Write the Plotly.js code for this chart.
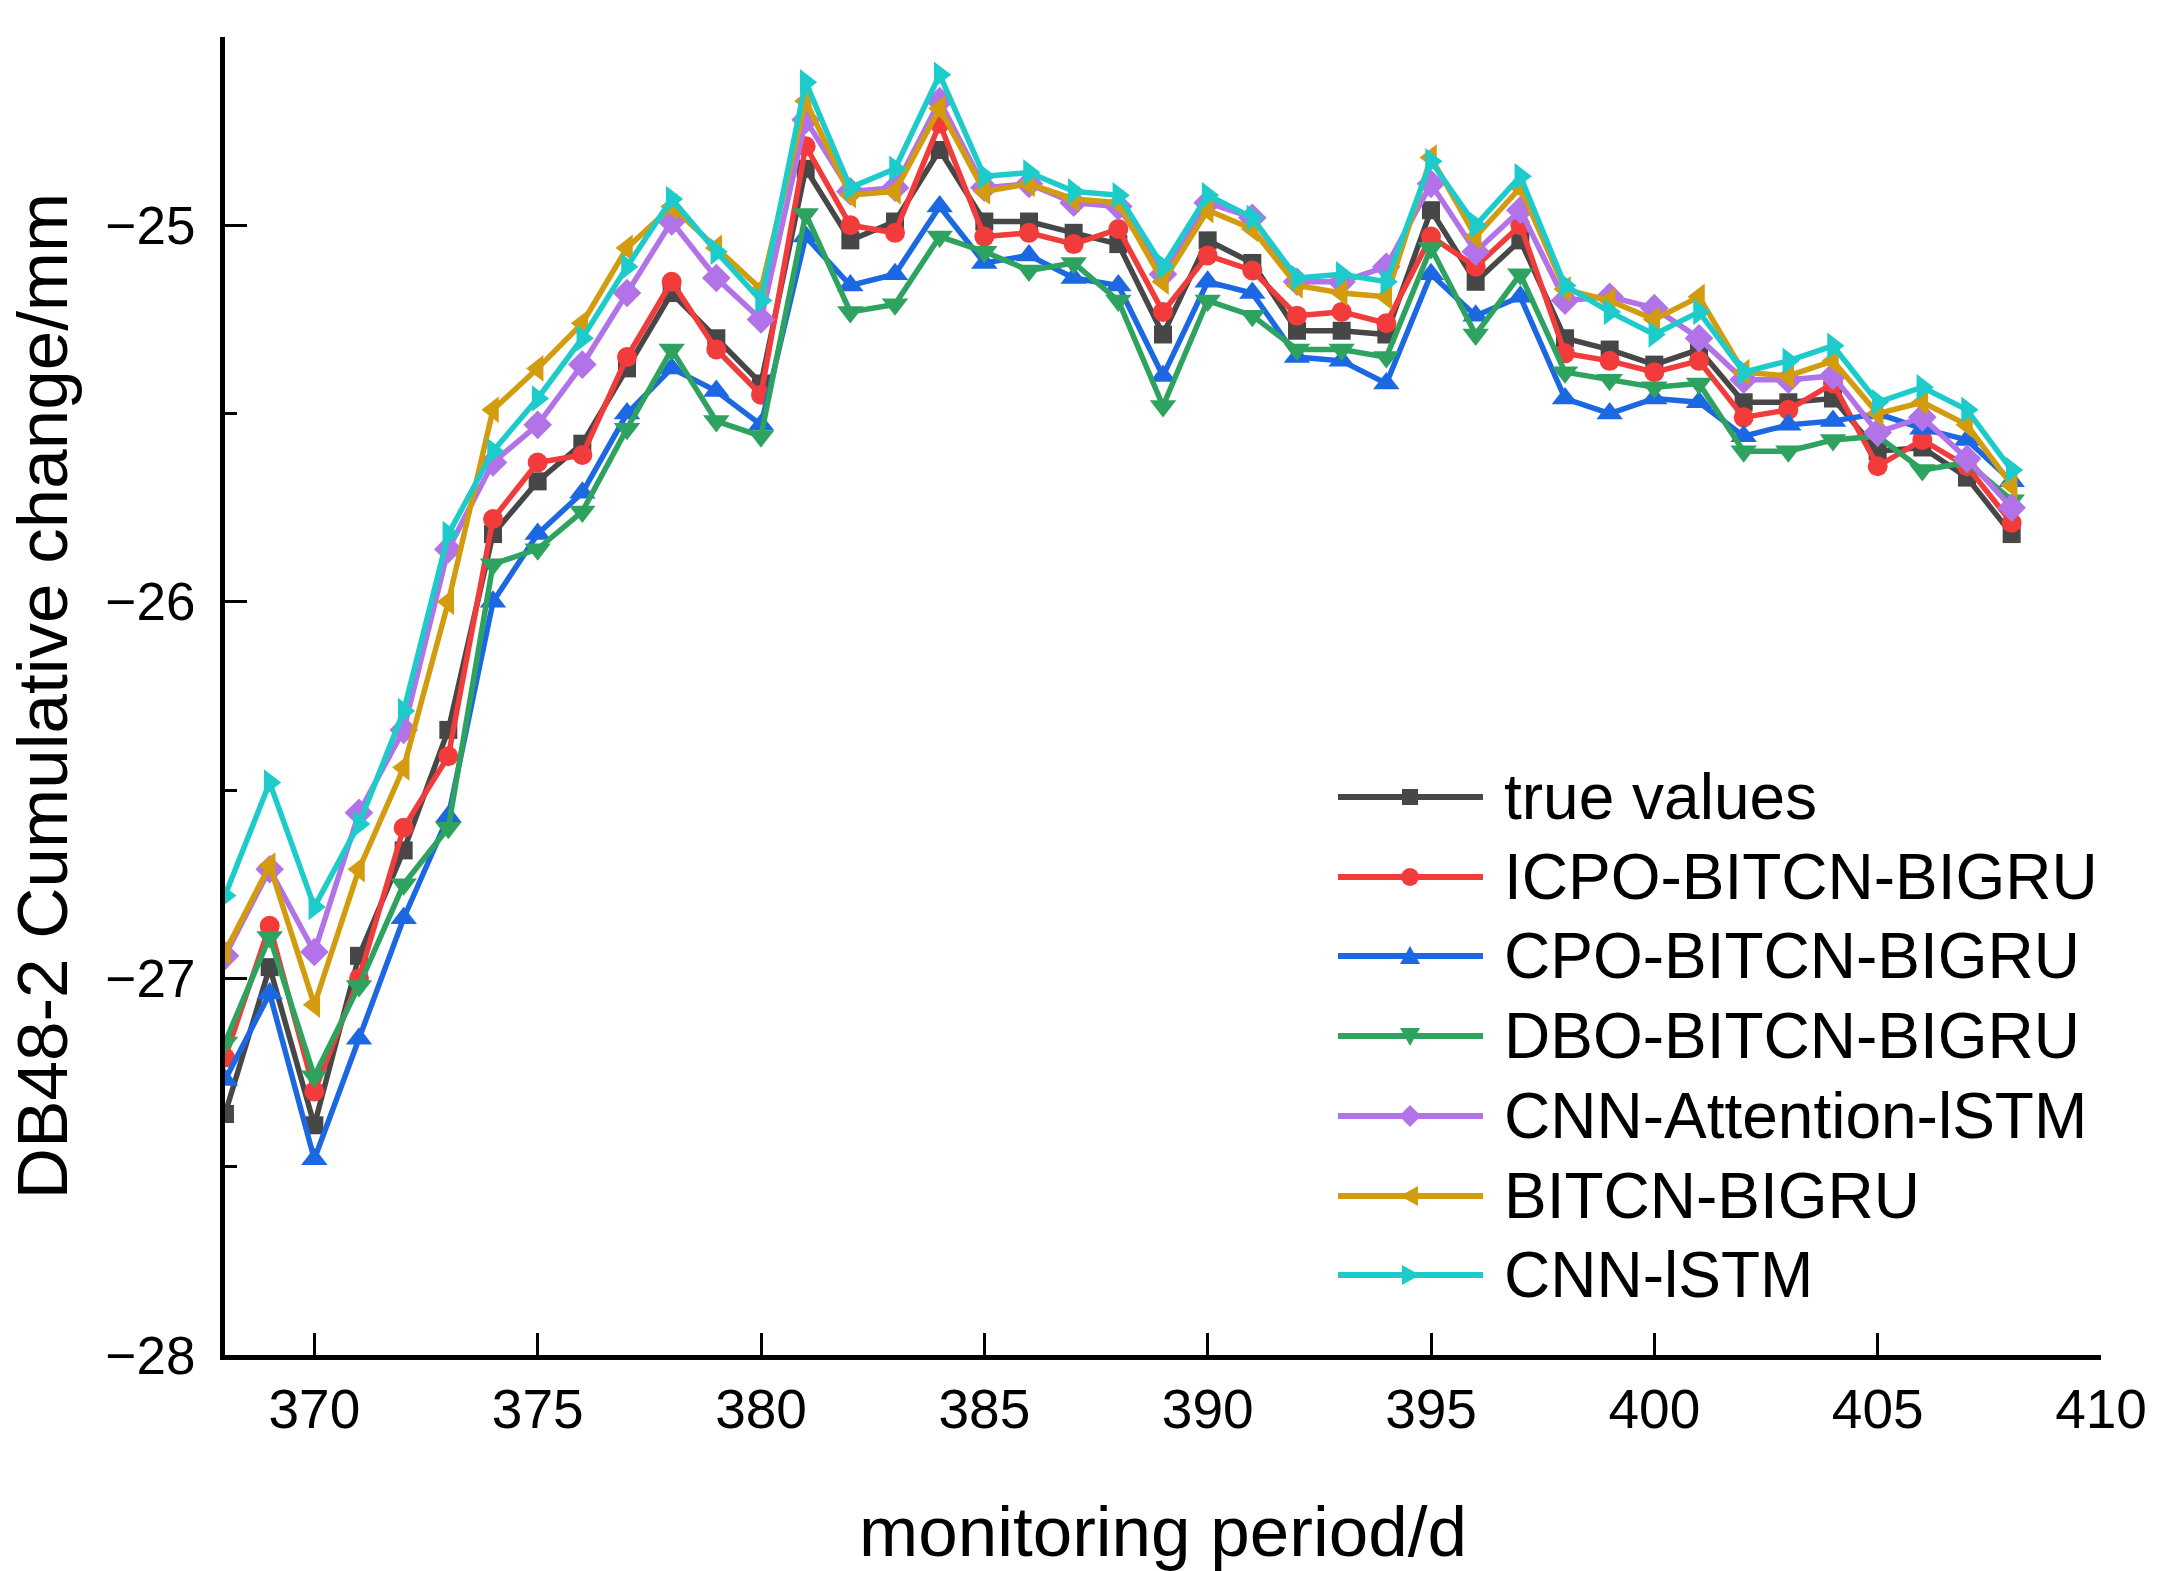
<!DOCTYPE html>
<html>
<head>
<meta charset="utf-8">
<script src="https://cdn.plot.ly/plotly-3.0.1.min.js"></script>
<style>html,body{margin:0;padding:0;background:#fff;}#chart{width:2159px;height:1571px;}</style>
</head>
<body>
<div id="chart"></div>
<script>
const days = [368,369,370,371,372,373,374,375,376,377,378,379,380,381,382,383,384,385,386,387,388,389,390,391,392,393,394,395,396,397,398,399,400,401,402,403,404,405,406,407,408];

const trueValues = [-27.36,-26.97,-27.39,-26.94,-26.66,-26.34,-25.82,-25.68,-25.58,-25.38,-25.18,-25.30,-25.42,-24.85,-25.04,-24.99,-24.80,-24.99,-24.99,-25.02,-25.05,-25.29,-25.04,-25.10,-25.28,-25.28,-25.29,-24.96,-25.15,-25.04,-25.30,-25.33,-25.37,-25.33,-25.47,-25.47,-25.46,-25.60,-25.59,-25.67,-25.82];
const icpo = [-27.21,-26.86,-27.30,-27.00,-26.60,-26.41,-25.78,-25.63,-25.61,-25.35,-25.15,-25.33,-25.45,-24.79,-25.00,-25.02,-24.73,-25.03,-25.02,-25.05,-25.01,-25.23,-25.08,-25.12,-25.24,-25.23,-25.26,-25.03,-25.11,-25.00,-25.34,-25.36,-25.39,-25.36,-25.51,-25.49,-25.42,-25.64,-25.57,-25.64,-25.79];
const cpo = [-27.27,-27.04,-27.48,-27.16,-26.84,-26.57,-26.00,-25.82,-25.71,-25.50,-25.38,-25.44,-25.53,-25.03,-25.16,-25.13,-24.95,-25.10,-25.08,-25.14,-25.16,-25.40,-25.15,-25.18,-25.35,-25.36,-25.42,-25.13,-25.24,-25.19,-25.46,-25.50,-25.46,-25.47,-25.56,-25.53,-25.52,-25.50,-25.54,-25.57,-25.68];
const dbo = [-27.17,-26.89,-27.26,-27.02,-26.75,-26.60,-25.90,-25.86,-25.76,-25.54,-25.33,-25.52,-25.56,-24.97,-25.23,-25.21,-25.03,-25.07,-25.12,-25.10,-25.20,-25.48,-25.20,-25.24,-25.33,-25.33,-25.35,-25.06,-25.29,-25.13,-25.39,-25.41,-25.43,-25.42,-25.60,-25.60,-25.57,-25.56,-25.65,-25.63,-25.73];
const cnnAtt = [-26.94,-26.71,-26.93,-26.56,-26.34,-25.86,-25.63,-25.53,-25.37,-25.18,-24.99,-25.14,-25.25,-24.72,-24.91,-24.90,-24.67,-24.90,-24.89,-24.94,-24.95,-25.13,-24.94,-24.98,-25.15,-25.15,-25.11,-24.89,-25.07,-24.96,-25.20,-25.19,-25.22,-25.30,-25.41,-25.41,-25.40,-25.55,-25.51,-25.62,-25.75];
const bitcn = [-26.93,-26.70,-27.07,-26.71,-26.44,-26.00,-25.49,-25.38,-25.26,-25.06,-24.95,-25.06,-25.17,-24.67,-24.92,-24.91,-24.69,-24.91,-24.89,-24.93,-24.94,-25.15,-24.96,-25.01,-25.16,-25.18,-25.19,-24.82,-25.03,-24.90,-25.17,-25.20,-25.25,-25.19,-25.39,-25.40,-25.36,-25.50,-25.47,-25.53,-25.69];
const cnnLstm = [-26.78,-26.48,-26.81,-26.59,-26.29,-25.82,-25.60,-25.46,-25.30,-25.11,-24.93,-25.07,-25.20,-24.62,-24.90,-24.85,-24.60,-24.87,-24.86,-24.91,-24.92,-25.11,-24.92,-24.98,-25.14,-25.13,-25.15,-24.83,-25.00,-24.87,-25.16,-25.23,-25.29,-25.23,-25.39,-25.36,-25.32,-25.47,-25.43,-25.49,-25.65];

const names = ['true values','ICPO-BITCN-BIGRU','CPO-BITCN-BIGRU','DBO-BITCN-BIGRU','CNN-Attention-lSTM','BITCN-BIGRU','CNN-lSTM'];
const seriesList = [trueValues, icpo, cpo, dbo, cnnAtt, bitcn, cnnLstm];
const colors = ['#474747','#f23b3b','#1c68e2','#2ea35f','#b272e8','#d29c0e','#1ecbcb'];
const symbols = ['square','circle','triangle-up','triangle-down','diamond','triangle-left','triangle-right'];
const sizes = [18,20,23,23,22,23,23];

const FONT = 'Liberation Sans, Arial, sans-serif';

const traces = seriesList.map((ys, i) => ({
  x: days, y: ys, type: 'scatter', mode: 'lines+markers', name: names[i],
  line: {color: colors[i], width: 5.5},
  marker: {symbol: symbols[i], size: sizes[i], color: colors[i], line: {width: 0}},
  showlegend: false
}));

// plot area in pixels
const W = 2159, H = 1571;
const L = 225, R = 2101, T = 37, B = 1355;
const px2x = X => (X - L) / (R - L);
const px2y = Y => (B - Y) / (B - T);

// manual legend
const legRows = [797, 877, 956, 1036, 1116, 1196, 1275];
const legPaths = {
  'square': 'M-8,-8L8,-8L8,8L-8,8Z',
  'triangle-up': 'M-10,-8L10,-8L0,10Z',
  'triangle-down': 'M-10,8L10,8L0,-10Z',
  'diamond': 'M0,11L11,0L0,-11L-11,0Z',
  'triangle-left': 'M8,-10L8,10L-10,0Z',
  'triangle-right': 'M-8,-10L-8,10L10,0Z'
};
const shapes = [];
const annotations = [];
names.forEach((nm, i) => {
  const yp = px2y(legRows[i]);
  shapes.push({type:'line', xref:'paper', yref:'paper', x0:px2x(1338), x1:px2x(1483), y0:yp, y1:yp,
    line:{color:colors[i], width:6}});
  if (symbols[i] === 'circle') {
    shapes.push({type:'circle', xref:'paper', yref:'paper', xsizemode:'pixel', ysizemode:'pixel',
      xanchor:px2x(1410), yanchor:yp, x0:-9, x1:9, y0:-9, y1:9,
      fillcolor:colors[i], line:{width:0}});
  } else {
    shapes.push({type:'path', xref:'paper', yref:'paper', xsizemode:'pixel', ysizemode:'pixel',
      xanchor:px2x(1410), yanchor:yp, path:legPaths[symbols[i]],
      fillcolor:colors[i], line:{width:0}});
  }
  annotations.push({xref:'paper', yref:'paper', x:px2x(1502), y:yp, xanchor:'left', yanchor:'middle',
    text:nm, showarrow:false, font:{family:FONT, size:64, color:'#000'}});
});

const layout = {
  width: W, height: H,
  margin: {l: L, r: W - R, t: T, b: H - B, pad: 0},
  paper_bgcolor: '#fff', plot_bgcolor: '#fff',
  font: {family: FONT, color: '#000'},
  showlegend: false,
  xaxis: {
    range: [368, 410], tick0: 370, dtick: 5,
    ticks: 'inside', ticklen: 22, tickwidth: 3, tickcolor: '#000',
    showline: true, linewidth: 5, linecolor: '#000', mirror: false,
    showgrid: false, zeroline: false,
    tickfont: {family: FONT, size: 55, color: '#000'},
    ticklabelstandoff: 2,
    title: {text: 'monitoring period/d', font: {family: FONT, size: 71, color: '#000'}, standoff: 72}
  },
  yaxis: {
    range: [-28, -24.5], tick0: -28, dtick: 1,
    ticks: 'inside', ticklen: 22, tickwidth: 3, tickcolor: '#000',
    minor: {dtick: 0.5, ticks: 'inside', ticklen: 12, tickwidth: 3, tickcolor: '#000', showgrid: false},
    showline: true, linewidth: 5, linecolor: '#000', mirror: false,
    showgrid: false, zeroline: false,
    tickfont: {family: FONT, size: 53, color: '#000'},
    ticklabelstandoff: 14,
    title: {text: 'DB48-2 Cumulative change/mm', font: {family: FONT, size: 71, color: '#000'}, standoff: 16}
  },
  shapes: shapes,
  annotations: annotations
};

Plotly.newPlot('chart', traces, layout, {staticPlot: true, displayModeBar: false});
</script>
</body>
</html>
